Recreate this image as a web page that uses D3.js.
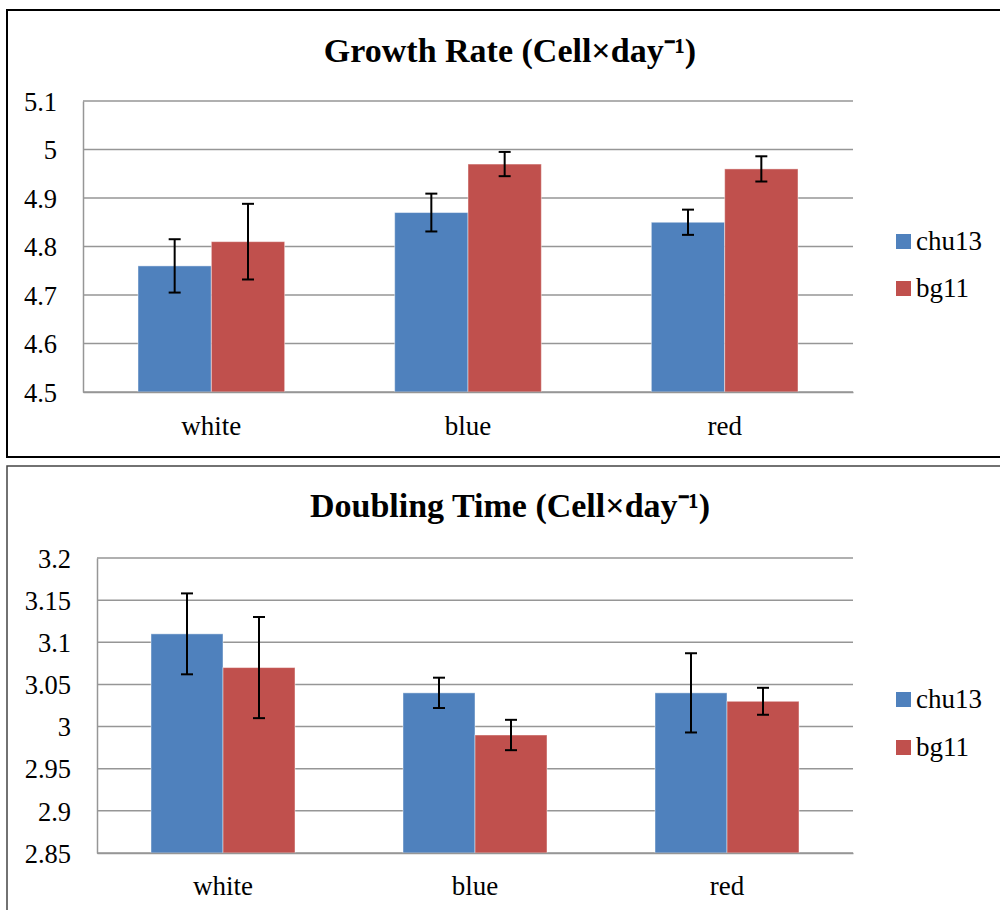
<!DOCTYPE html>
<html>
<head>
<meta charset="utf-8">
<script src="https://cdn.jsdelivr.net/npm/d3@7"></script>
<style>
  html, body { margin: 0; padding: 0; background: #fff; }
  svg { display: block; }
</style>
</head>
<body>
<svg id="chart" width="1000" height="910"></svg>
<script>
// ---- data ----
const categories = ["white", "blue", "red"];
const seriesNames = ["chu13", "bg11"];
const seriesColors = ["#4F81BD", "#C0504D"];

const growthTitle = "Growth Rate (Cell×day⁻¹)";
const growthChu13 = [4.76, 4.87, 4.85];
const growthBg11  = [4.81, 4.97, 4.96];
const growthErrChu13 = [0.055, 0.039, 0.026];
const growthErrBg11  = [0.078, 0.025, 0.026];
const growthTicks = [4.5, 4.6, 4.7, 4.8, 4.9, 5.0, 5.1];

const doublingTitle = "Doubling Time (Cell×day⁻¹)";
const doublingChu13 = [3.11, 3.04, 3.04];
const doublingBg11  = [3.07, 2.99, 3.03];
const doublingErrChu13 = [0.048, 0.018, 0.047];
const doublingErrBg11  = [0.060, 0.018, 0.016];
const doublingTicks = [2.85, 2.9, 2.95, 3.0, 3.05, 3.1, 3.15, 3.2];

const FONT = "'Liberation Serif'";
const svg = d3.select("#chart");

function drawPanel(cfg) {
  const g = svg.append("g");
  // panel border
  g.append("rect")
    .attr("x", cfg.box[0]).attr("y", cfg.box[1])
    .attr("width", cfg.box[2]).attr("height", cfg.box[3])
    .attr("fill", "none").attr("stroke", cfg.boxColor).attr("stroke-width", cfg.boxWidth);

  const x0 = d3.scaleBand().domain(categories).range([cfg.left, cfg.right]).padding(0);
  const x1 = d3.scaleBand().domain(seriesNames).range([0, x0.step()]).paddingInner(0).paddingOuter(0.75);
  const y = d3.scaleLinear().domain(cfg.domain).range([cfg.bottom, cfg.top]);

  // gridlines
  g.append("g").selectAll("line").data(cfg.ticks).join("line")
    .attr("x1", cfg.left).attr("x2", cfg.right)
    .attr("y1", d => y(d)).attr("y2", d => y(d))
    .attr("stroke", "#969696").attr("stroke-width", 1.5);

  // y axis
  const yAxis = d3.axisLeft(y).tickValues(cfg.ticks).tickSize(0).tickPadding(26)
    .tickFormat(d => cfg.fmt(d));
  const ya = g.append("g").attr("transform", `translate(${cfg.left},0)`).call(yAxis);
  ya.select(".domain").attr("stroke", "#969696").attr("stroke-width", 1.5);
  ya.selectAll("text").style("font-family", FONT).style("font-size", "26.5px").attr("fill", "#000")
    .attr("dy", "0.35em");

  // bars
  const data = categories.map((c, i) => ({
    cat: c,
    vals: seriesNames.map((s, j) => ({ s, j, v: cfg.values[j][i], e: cfg.errors[j][i] }))
  }));
  const groups = g.append("g").selectAll("g").data(data).join("g")
    .attr("transform", d => `translate(${x0(d.cat)},0)`);
  groups.selectAll("rect").data(d => d.vals).join("rect")
    .attr("x", d => x1(d.s)).attr("width", x1.bandwidth())
    .attr("y", d => y(d.v)).attr("height", d => cfg.bottom - y(d.v))
    .attr("fill", d => seriesColors[d.j])
    .attr("stroke", "rgba(255,255,255,0.45)").attr("stroke-width", 1);

  // error bars
  const eb = groups.selectAll("g.err").data(d => d.vals).join("g").attr("class", "err");
  const cx = d => x1(d.s) + x1.bandwidth() / 2;
  eb.append("line")
    .attr("x1", cx).attr("x2", cx)
    .attr("y1", d => y(d.v + d.e)).attr("y2", d => y(d.v - d.e))
    .attr("stroke", "#000").attr("stroke-width", 2);
  eb.append("line")
    .attr("x1", d => cx(d) - 6).attr("x2", d => cx(d) + 6)
    .attr("y1", d => y(d.v + d.e)).attr("y2", d => y(d.v + d.e))
    .attr("stroke", "#000").attr("stroke-width", 2);
  eb.append("line")
    .attr("x1", d => cx(d) - 6).attr("x2", d => cx(d) + 6)
    .attr("y1", d => y(d.v - d.e)).attr("y2", d => y(d.v - d.e))
    .attr("stroke", "#000").attr("stroke-width", 2);

  // x axis
  const xAxis = d3.axisBottom(x0).tickSize(0).tickPadding(0);
  const xa = g.append("g").attr("transform", `translate(0,${cfg.bottom})`).call(xAxis);
  xa.select(".domain").attr("stroke", "#969696").attr("stroke-width", 1.5);
  xa.selectAll("text").style("font-family", FONT).style("font-size", "27px").attr("fill", "#000")
    .attr("dy", null).attr("y", cfg.catBaseline - cfg.bottom);

  // title
  g.append("text").attr("x", cfg.titleX).attr("y", cfg.titleY)
    .attr("text-anchor", "middle")
    .style("font-family", FONT).style("font-size", "34px").style("font-weight", "bold")
    .text(cfg.title);

  // legend
  const lg = g.append("g").selectAll("g").data(seriesNames).join("g")
    .attr("transform", (d, i) => `translate(896,${cfg.legendY + i * cfg.legendGap})`);
  lg.append("rect").attr("width", 15).attr("height", 15).attr("fill", (d, i) => seriesColors[i]);
  lg.append("text").attr("x", 20).attr("y", 16)
    .style("font-family", FONT).style("font-size", "27px").text(d => d);
}

drawPanel({
  box: [7, 10, 1000, 447], boxColor: "#000", boxWidth: 2,
  left: 83, right: 853, top: 101, bottom: 392,
  domain: [4.5, 5.1], ticks: growthTicks, fmt: d => d3.format("")(+d.toFixed(1)),
  values: [growthChu13, growthBg11], errors: [growthErrChu13, growthErrBg11],
  catBaseline: 435, title: growthTitle, titleX: 510, titleY: 62,
  legendY: 234, legendGap: 47
});

drawPanel({
  box: [7, 466, 1000, 460], boxColor: "#444", boxWidth: 1.5,
  left: 97, right: 853, top: 558, bottom: 853,
  domain: [2.85, 3.2], ticks: doublingTicks, fmt: d => d3.format("")(+d.toFixed(2)),
  values: [doublingChu13, doublingBg11], errors: [doublingErrChu13, doublingErrBg11],
  catBaseline: 895, title: doublingTitle, titleX: 510, titleY: 517,
  legendY: 692, legendGap: 48
});
</script>
</body>
</html>
